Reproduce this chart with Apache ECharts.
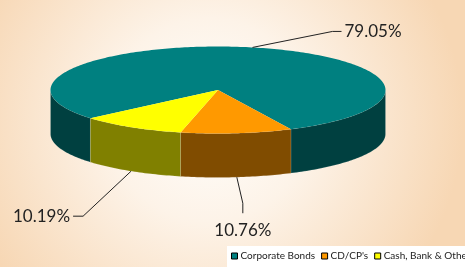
<!DOCTYPE html>
<html>
<head>
<meta charset="utf-8">
<style>
    html, body { margin: 0; padding: 0; }
    #chart { width: 465px; height: 267px; }
</style>
<script src="https://cdn.jsdelivr.net/npm/echarts@6/dist/echarts.min.js"></script>
</head>
<body>
<div id="chart"></div>
<script>
var categories = ['Corporate Bonds', "CD/CP's", 'Cash, Bank & Others'];
var shares = [79.05, 10.76, 10.19];
var topColors = ['#008080', '#ff9900', '#ffff00'];
var sideColors = ['#004040', '#804c00', '#808000'];

// 3D pie geometry: ellipse top, wall depth, first slice start (deg, clockwise, y down)
var geo = {cx: 218, cy: 90, rx: 167.5, ry: 43.5, depth: 44, startAngle: 139.6};
// leader line per slice, relative to the slice's rim anchor
var leaders = [
    {elbow: [80, -16], end: [89, -16], align: 'left'},
    {elbow: [6, 26], end: [6, 36], align: 'center'},
    {elbow: [-48, 45], end: [-58, 45], align: 'right'}
];

var total = shares.reduce(function (a, b) { return a + b; }, 0);
var starts = [];
(function () {
    var acc = geo.startAngle;
    shares.forEach(function (v) {
        starts.push(acc);
        acc += v / total * 360;
    });
})();

function rimPoint(deg, drop) {
    var r = deg * Math.PI / 180;
    return [geo.cx + geo.rx * Math.cos(r), geo.cy + geo.ry * Math.sin(r) + (drop || 0)];
}

function arc(a0, a1, drop) {
    var pts = [];
    for (var a = a0; a < a1; a += 1) {
        pts.push(rimPoint(a, drop));
    }
    pts.push(rimPoint(a1, drop));
    return pts;
}

function renderSlice(params, api) {
    var i = params.dataIndex;
    var a0 = starts[i];
    var a1 = a0 + api.value(0) / total * 360;
    var children = [];

    // front walls: only the part of the slice facing the viewer (0..180 deg)
    [0, 360, 720].forEach(function (k) {
        var s = Math.max(a0, k), e = Math.min(a1, k + 180);
        if (e <= s) {
            return;
        }
        var pts = arc(s, e, 0).concat(arc(s, e, geo.depth).reverse());
        children.push({
            type: 'polygon',
            z2: 1,
            shape: {points: pts},
            style: {fill: sideColors[i], stroke: 'rgba(255,255,255,0.25)', lineWidth: 0.5}
        });
    });

    // top face
    children.push({
        type: 'polygon',
        z2: 2,
        shape: {points: [[geo.cx, geo.cy]].concat(arc(a0, a1, 0))},
        style: {fill: topColors[i]}
    });

    // label + leader
    var mid = (a0 + a1) / 2;
    var m = ((mid % 360) + 360) % 360;
    var anchor = rimPoint(mid, m > 0 && m < 180 ? geo.depth : 0);
    var L = leaders[i];
    var elbow = [anchor[0] + L.elbow[0], anchor[1] + L.elbow[1]];
    var end = [anchor[0] + L.end[0], anchor[1] + L.end[1]];
    children.push({
        type: 'polyline',
        z2: 3,
        shape: {points: [anchor, elbow, end]},
        style: {stroke: '#222', lineWidth: 1, fill: null}
    });
    var tx = end[0], ty = end[1], va = 'middle';
    if (L.align === 'left') { tx += 3; }
    else if (L.align === 'right') { tx -= 3; }
    else { ty += 9; va = 'top'; }
    children.push({
        type: 'text',
        z2: 3,
        x: tx,
        y: ty,
        style: {
            text: api.value(0).toFixed(2) + '%',
            fill: '#222',
            font: '17px Lato',
            align: L.align,
            verticalAlign: va
        }
    });

    return {type: 'group', children: children};
}

var chart = echarts.init(document.getElementById('chart'));

var series = [{
    type: 'custom',
    name: 'pie',
    coordinateSystem: 'none',
    renderItem: renderSlice,
    silent: true,
    data: shares.map(function (v) { return [v]; })
}];
// legend-only series
categories.forEach(function (name, i) {
    series.push({
        type: 'custom',
        name: name,
        coordinateSystem: 'none',
        renderItem: function () { return null; },
        itemStyle: {color: topColors[i]},
        data: []
    });
});

chart.setOption({
    animation: false,
    backgroundColor: {
        type: 'radial',
        x: 0.45, y: 0.45, r: 0.95,
        colorStops: [
            {offset: 0, color: '#fffefc'},
            {offset: 0.4, color: '#fdf3e8'},
            {offset: 1, color: '#f7d7b4'}
        ]
    },
    legend: {
        data: categories,
        left: 227,
        top: 246,
        width: 330,
        icon: 'rect',
        itemWidth: 6,
        itemHeight: 6,
        itemGap: 6,
        padding: [5, 40, 10, 4],
        backgroundColor: '#fff',
        itemStyle: {borderColor: '#000', borderWidth: 1},
        textStyle: {fontFamily: 'Lato', fontSize: 10, color: '#222', padding: [0, 0, 0, -2]}
    },
    series: series
});
</script>
</body>
</html>
